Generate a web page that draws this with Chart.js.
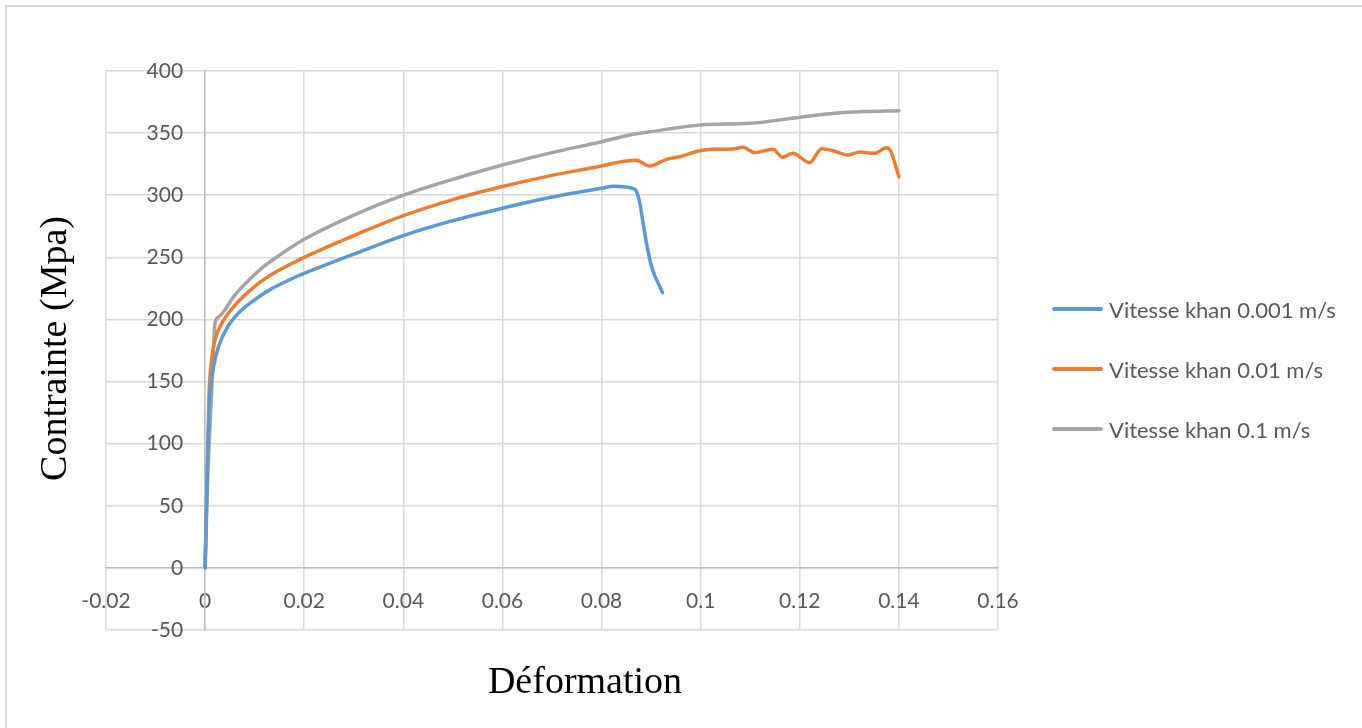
<!DOCTYPE html>
<html lang="fr">
<head>
<meta charset="utf-8">
<title>Contrainte - Déformation</title>
<script src="https://cdn.jsdelivr.net/npm/chart.js@4.4.1/dist/chart.umd.min.js"></script>
<style>
  html, body { margin: 0; padding: 0; background: #ffffff; overflow: hidden; }
  #frame {
    position: absolute; left: 5px; top: 5px; width: 1500px; height: 900px;
    border-left: 2px solid #d9d9d9; border-top: 2px solid #d9d9d9;
  }
  #c { position: absolute; left: 0; top: 0; }
  #legend {
    position: absolute; left: 1052px; top: 279px;
    font-family: Lato, "Liberation Sans", sans-serif; font-size: 22px; color: #595959;
  }
  #legend .row { height: 60px; display: flex; align-items: center; white-space: nowrap; }
  #legend .swatch { width: 51px; height: 3.5px; border-radius: 2px; margin-right: 6px; }
</style>
</head>
<body>
<div id="frame"></div>
<canvas id="c" width="1362" height="728"></canvas>
<div id="legend"></div>
<script>
// Traction curves: strain (-) vs. stress (MPa) for three loading speeds.
const labels = ['Vitesse khan 0.001 m/s', 'Vitesse khan 0.01 m/s', 'Vitesse khan 0.1 m/s'];
const colors = ['#5b9bd5', '#ed7d31', '#a5a5a5'];

const strainSlow = [0, 0.0004, 0.0008, 0.001, 0.0017, 0.0027, 0.0044, 0.0067, 0.0097, 0.0131, 0.0171, 0.02, 0.03, 0.04, 0.05, 0.06, 0.07, 0.08, 0.0824, 0.086, 0.0869, 0.0876, 0.0884, 0.0892, 0.0901, 0.0923];
const stressSlow = [0, 70, 128, 141, 162, 178, 193, 205, 215, 224, 232, 237, 252.5, 267.5, 279.5, 289.5, 298.5, 305.6, 307.2, 305.8, 304, 296, 277, 258.6, 242.5, 221.6];

const strainMid = [0, 0.0004, 0.0008, 0.0013, 0.002, 0.0034, 0.0057, 0.0084, 0.0118, 0.0151, 0.02, 0.03, 0.04, 0.05, 0.06, 0.07, 0.08, 0.0837, 0.087, 0.0897, 0.0931, 0.0958, 0.0998, 0.1025, 0.1065, 0.1085, 0.1109, 0.1146, 0.1165, 0.1186, 0.122, 0.1244, 0.1267, 0.1298, 0.1321, 0.1351, 0.1375, 0.1383, 0.14];
const stressMid = [0, 75, 140, 167, 183.5, 197, 210, 221, 232, 240, 250, 267.5, 283.5, 296.5, 307, 316, 323.5, 326.8, 328.2, 323.5, 328.9, 331, 335.8, 337, 337.2, 338.6, 334.3, 337, 330.5, 333.7, 326.2, 337.5, 335.8, 332.4, 334.8, 333.7, 338.2, 335.8, 314.9];

const strainFast = [0, 0.0005, 0.0013, 0.002, 0.0027, 0.0037, 0.0057, 0.0084, 0.0118, 0.0151, 0.02, 0.03, 0.04, 0.05, 0.06, 0.07, 0.08, 0.0857, 0.09, 0.1, 0.11, 0.12, 0.127, 0.133, 0.14];
const stressFast = [0, 70, 140, 197, 202, 206, 218, 230, 242.5, 252, 264.5, 284, 300, 312.8, 324.3, 334.3, 343.1, 348.5, 351.2, 356.6, 357.9, 362.7, 365.9, 367.3, 368];

const xTicks = { min: -0.02, max: 0.16, step: 0.02 };
const yTicks = { min: -50, max: 400, step: 50 };
// strain value at which the stress labels end, just left of the vertical axis
const yLabelAnchor = -0.00444;

const pairs = (xs, ys) => xs.map((x, i) => ({ x: x, y: ys[i] }));
const series = [pairs(strainSlow, stressSlow), pairs(strainMid, stressMid), pairs(strainFast, stressFast)];

const tickFont = { family: 'Lato, "Liberation Sans", sans-serif', size: 21 };
const fmt = v => String(+Number(v).toFixed(4));

// Axis titles are drawn next to the plot area in a serif face.
const axisTitles = {
  id: 'axisTitles',
  afterDraw(chart) {
    const { ctx, chartArea } = chart;
    ctx.save();
    ctx.fillStyle = '#000000';
    ctx.font = '38px "Liberation Serif", "Times New Roman", serif';
    ctx.textAlign = 'center';
    ctx.textBaseline = 'alphabetic';
    ctx.fillText('Déformation', (chartArea.left + chartArea.right) / 2 + 33, chartArea.bottom + 63);
    ctx.translate(chartArea.left - 50, (chartArea.top + chartArea.bottom) / 2 - 2);
    ctx.rotate(-Math.PI / 2);
    ctx.textBaseline = 'middle';
    ctx.fillText('Contrainte (Mpa)', 0, 0);
    ctx.restore();
  }
};

const chart = new Chart(document.getElementById('c'), {
  type: 'scatter',
  data: {
    datasets: series.map((data, i) => ({
      label: labels[i],
      data: data,
      showLine: true,
      borderColor: colors[i],
      backgroundColor: colors[i],
      borderWidth: 3.5,
      borderCapStyle: 'round',
      borderJoinStyle: 'round',
      pointRadius: 0,
      pointHoverRadius: 0,
      cubicInterpolationMode: 'monotone'
    }))
  },
  options: {
    responsive: false,
    animation: false,
    events: [],
    layout: { padding: { left: 106, top: 71, right: 364, bottom: 98 } },
    plugins: { legend: { display: false }, tooltip: { enabled: false } },
    scales: {
      x: {
        type: 'linear',
        position: { y: 0 },
        min: xTicks.min, max: xTicks.max,
        ticks: { stepSize: xTicks.step, padding: 21, color: '#595959', font: tickFont, maxRotation: 0, autoSkip: false, callback: fmt },
        grid: { color: '#d9d9d9', lineWidth: 1.5, drawTicks: false },
        border: { color: '#bfbfbf', width: 1.5 }
      },
      y: {
        type: 'linear',
        position: { x: 0 },
        min: yTicks.min, max: yTicks.max,
        ticks: { stepSize: yTicks.step, display: false },
        grid: { color: '#d9d9d9', lineWidth: 1.5, drawTicks: false },
        border: { color: '#bfbfbf', width: 1.5 }
      },
      // stress labels, right-aligned a little to the left of the vertical axis
      yLabels: {
        type: 'linear',
        axis: 'y',
        position: { x: yLabelAnchor },
        min: yTicks.min, max: yTicks.max,
        ticks: { stepSize: yTicks.step, padding: 0, color: '#595959', font: tickFont, callback: fmt },
        grid: { display: false, drawTicks: false },
        border: { display: false }
      }
    }
  },
  plugins: [axisTitles]
});

// Legend built from the datasets
const legend = document.getElementById('legend');
chart.data.datasets.forEach(ds => {
  const row = document.createElement('div');
  row.className = 'row';
  const sw = document.createElement('span');
  sw.className = 'swatch';
  sw.style.background = ds.borderColor;
  const tx = document.createElement('span');
  tx.textContent = ds.label;
  row.appendChild(sw);
  row.appendChild(tx);
  legend.appendChild(row);
});
</script>
</body>
</html>
